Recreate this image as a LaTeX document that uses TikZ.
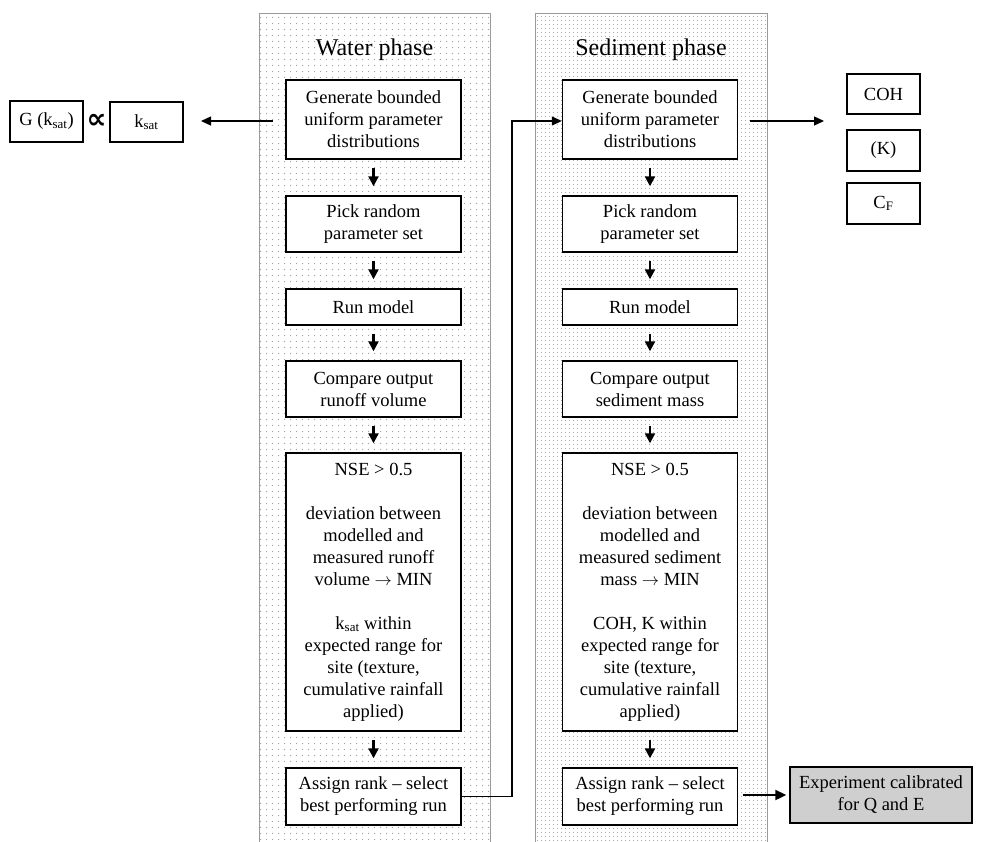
\documentclass[tikz,border=0pt]{standalone}
\usepackage{fontspec}
\setmainfont{Liberation Serif}
\newfontfamily\symfont{DejaVu Sans}
\usetikzlibrary{arrows.meta,patterns.meta}
\tikzdeclarepattern{
  name=sparsedots,
  type=uncolored,
  bounding box={(0pt,0pt) and (6pt,6pt)},
  tile size={(6pt,6pt)},
  code={\fill (3pt,3pt) circle (0.75pt);}
}
\tikzdeclarepattern{
  name=densedots,
  type=uncolored,
  bounding box={(0pt,0pt) and (4pt,4pt)},
  tile size={(4pt,4pt)},
  code={\fill (2pt,2pt) circle (0.65pt);}
}
\newcommand{\arr}{ $\rightarrow$ }
\begin{document}
\begin{tikzpicture}[x=1pt,y=-1pt,
  box/.style={draw=black, line width=1.4pt, fill=white, align=center, inner sep=0pt,
    minimum width=175pt, font=\fontsize{18.5}{22}\selectfont},
  sidebox/.style={draw=black, line width=1.4pt, fill=white, align=center, inner sep=0pt,
    minimum width=73pt, minimum height=40pt, font=\fontsize{18.5}{22}\selectfont},
  panelW/.style={draw=gray!80, line width=0.8pt, pattern=sparsedots, pattern color=gray!80},
  panelS/.style={draw=gray!80, line width=0.8pt, pattern=densedots, pattern color=gray!70},
  title/.style={font=\fontsize{24}{28}\selectfont},
  flow/.style={-{Triangle[length=10pt,width=10pt]}, line width=2.2pt, shorten <=8pt, shorten >=9pt},
  link/.style={-{Triangle[length=10pt,width=9pt]}, line width=1.3pt}
]
\useasboundingbox (0,0) rectangle (985,841);
\clip (0,0) rectangle (985,841);

% panels
\fill[white] (259,13) rectangle (490,860);
\fill[white] (535,13) rectangle (767,860);
\path[panelW] (259,13) rectangle (490,860);
\path[panelS] (535,13) rectangle (767,860);

\node[title] (tw) at (374.5,50) {Water phase};
\node[title] (ts) at (651,50) {Sediment phase};

% water column
\node[box, minimum height=79pt] (w1) at (373.5,119.5) {Generate bounded\\uniform parameter\\distributions};
\node[box, minimum height=56pt] (w2) at (373.5,224) {Pick random\\parameter set};
\node[box, minimum height=36pt] (w3) at (373.5,307) {Run model};
\node[box, minimum height=56pt] (w4) at (373.5,389) {Compare output\\runoff volume};
\node[box, minimum height=278pt] (w5) at (373.5,592) {NSE > 0.5\\[22pt]deviation between\\modelled and\\measured runoff\\volume\arr MIN\\[22pt]k\textsubscript{sat} within\\expected range for\\site (texture,\\cumulative rainfall\\applied)};
\node[box, minimum height=57pt] (w6) at (373.5,796.5) {Assign rank – select\\best performing run};

% sediment column
\node[box, minimum height=79pt] (s1) at (650,119.5) {Generate bounded\\uniform parameter\\distributions};
\node[box, minimum height=56pt] (s2) at (650,224) {Pick random\\parameter set};
\node[box, minimum height=36pt] (s3) at (650,307) {Run model};
\node[box, minimum height=56pt] (s4) at (650,389) {Compare output\\sediment mass};
\node[box, minimum height=278pt] (s5) at (650,592) {NSE > 0.5\\[22pt]deviation between\\modelled and\\measured sediment\\mass\arr MIN\\[22pt]COH, K within\\expected range for\\site (texture,\\cumulative rainfall\\applied)};
\node[box, minimum height=57pt] (s6) at (650,796.5) {Assign rank – select\\best performing run};

\foreach \c in {w,s}{
  \draw[flow] (\c1.south) -- (\c2.north);
  \draw[flow] (\c2.south) -- (\c3.north);
  \draw[flow] (\c3.south) -- (\c4.north);
  \draw[flow] (\c4.south) -- (\c5.north);
  \draw[flow] (\c5.south) -- (\c6.north);
}

% left side
\node[sidebox, minimum height=41pt] (g) at (46.5,121.5) {G (k\textsubscript{sat})};
\node[font=\symfont\bfseries\fontsize{28}{28}\selectfont, inner sep=0pt] (prop) at (96.5,121) {∝};
\node[sidebox] (k) at (146.5,122) {k\textsubscript{sat}};
\coordinate (lstart) at (273,121);
\coordinate (lend) at (201,121);
\draw[link] (lstart) -- (lend);

% right side
\node[sidebox] (coh) at (883.5,94) {COH};
\node[sidebox, minimum height=41pt] (kk) at (883.5,150.5) {(K)};
\node[sidebox, minimum height=41pt] (cf) at (883.5,203.5) {C\textsubscript{F}};
\coordinate (rstart) at (750,121);
\coordinate (rend) at (824,121);
\draw[link] (rstart) -- (rend);

% connector water -> sediment
\coordinate (bend1) at (512,796.5);
\coordinate (bend2) at (512,121);
\draw[link] (w6.east) -- (bend1) -- (bend2) -- (s1.west |- bend2);

% result
\node[draw=black, line width=1.4pt, fill=gray!38, align=center, inner sep=0pt,
  minimum width=182pt, minimum height=56pt, font=\fontsize{18.5}{22}\selectfont]
  (res) at (881,795) {Experiment calibrated\\for Q and E};
\draw[-{Triangle[length=11pt,width=10pt]}, line width=2pt, shorten <=5pt, shorten >=3pt] (s6.east |- res.west) -- (res.west);
\end{tikzpicture}
\end{document}
